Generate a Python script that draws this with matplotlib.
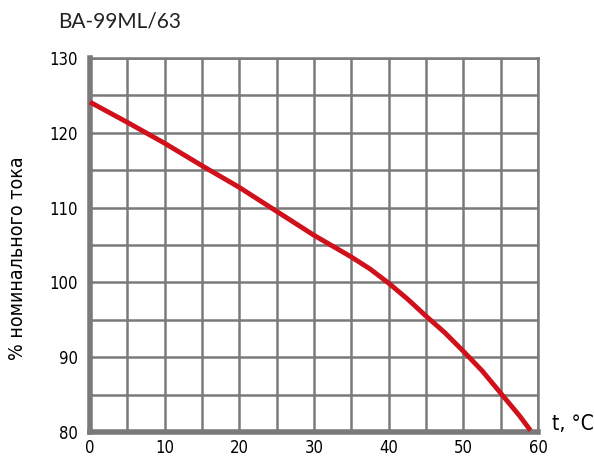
import matplotlib

matplotlib.use("Agg")
import matplotlib.pyplot as plt

# derating curve
temp_c = [0, 5, 10, 15, 20, 25, 30, 35, 37.5, 40, 42.5, 45, 47.5, 50, 52.5, 55, 57.5, 59]
current_pct = [124.1, 121.4, 118.6, 115.6, 112.7, 109.5, 106.3, 103.4, 101.8, 99.9, 97.8,
               95.5, 93.3, 90.8, 88.2, 85.2, 82.2, 80.2]

x_ticks = [0, 10, 20, 30, 40, 50, 60]
y_ticks = [80, 90, 100, 110, 120, 130]

tick_font = dict(family="DejaVu Sans", stretch="condensed", size=12)

grid_c = "#7a7a7a"
red = "#d0101a"

fig = plt.figure(figsize=(5.94, 4.59), dpi=100)
ax = fig.add_axes([90 / 594, 1 - 432 / 459, 448 / 594, 374 / 459])

ax.set_xlim(0, 60)
ax.set_ylim(80, 130)
ax.set_xticks(x_ticks)
ax.set_xticks(range(5, 60, 10), minor=True)
ax.set_yticks(y_ticks)
ax.set_yticks(range(85, 130, 10), minor=True)
ax.grid(True, which="both", color=grid_c, linewidth=1.8)
ax.set_axisbelow(True)
ax.tick_params(which="both", length=0)
ax.tick_params(axis="x", pad=5)
ax.tick_params(axis="y", pad=9)
for lab in ax.get_xticklabels() + ax.get_yticklabels():
    lab.set_fontfamily(tick_font["family"])
    lab.set_fontstretch(tick_font["stretch"])
    lab.set_fontsize(tick_font["size"])

for side in ("top", "right"):
    ax.spines[side].set_color(grid_c)
    ax.spines[side].set_linewidth(1.8)
for side in ("left", "bottom"):
    ax.spines[side].set_color(grid_c)
    ax.spines[side].set_linewidth(4)

ax.plot(temp_c, current_pct, color=red, linewidth=3.5, solid_capstyle="butt",
        solid_joinstyle="round", clip_on=False, zorder=5)

fig.text(58 / 594, 1 - 22 / 459, "BA-99ML/63", fontsize=15, va="center", ha="left",
         family="Lato", color="#222222")
fig.text(552 / 594, 1 - 424 / 459, "t, °C", fontsize=15, va="center", ha="left",
         family="DejaVu Sans", stretch="condensed")
fig.text(18 / 594, 1 - 258 / 459, "% номинального тока", fontsize=14, rotation=90,
         va="center", ha="center", family="DejaVu Sans", stretch="condensed")

fig.savefig("out.png", dpi=100)
